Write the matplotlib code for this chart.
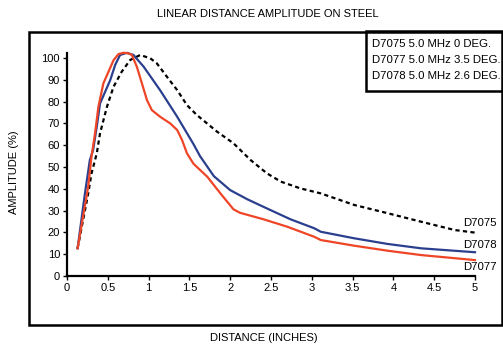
import matplotlib
matplotlib.use("Agg")
import matplotlib.pyplot as plt
from matplotlib.patches import Rectangle

plt.rcParams['font.family'] = ['Liberation Sans', 'DejaVu Sans']

# D7075 (dashed black)
x_d7075 = [0.13, 0.26, 0.30, 0.365, 0.405, 0.49, 0.57, 0.67, 0.774, 0.897, 1.02, 1.10, 1.225, 1.35, 1.47,
           1.59, 1.84, 2.04, 2.25, 2.45, 2.62, 2.86, 3.11, 3.52, 3.93, 4.34, 4.75, 5.0]
y_d7075 = [12.7, 37.9, 47.0, 56.3, 65.5, 77.7, 86.8, 93.7, 99.1, 101.4, 99.9, 97.6, 91.4, 85.3, 78.4,
           73.9, 66.2, 60.9, 53.2, 47.1, 43.3, 40.2, 37.9, 32.6, 28.8, 24.9, 21.1, 19.9]

# D7078 (blue)
x_d7078 = [0.13, 0.22, 0.28, 0.32, 0.365, 0.405, 0.467, 0.53, 0.59, 0.65, 0.733, 0.815, 0.94, 1.14, 1.35,
           1.55, 1.63, 1.80, 2.0, 2.21, 2.45, 2.74, 3.03, 3.11, 3.52, 3.93, 4.34, 5.0]
y_d7078 = [12.7, 37.9, 53.2, 57.8, 68.5, 79.2, 84.5, 89.9, 96.8, 101.4, 102.4, 101.4, 96.0, 85.3, 73.1,
           60.5, 55.0, 45.8, 39.4, 35.2, 31.0, 26.0, 21.9, 20.3, 17.3, 14.7, 12.7, 10.9]

# D7077 (red)
x_d7077 = [0.13, 0.20, 0.26, 0.30, 0.344, 0.385, 0.446, 0.50, 0.57, 0.63, 0.69, 0.75, 0.795, 0.856, 0.918,
           0.98, 1.04, 1.14, 1.265, 1.35, 1.41, 1.47, 1.55, 1.72, 1.88, 2.04, 2.12, 2.41, 2.70, 3.03, 3.11,
           3.52, 3.93, 4.34, 5.0]
y_d7077 = [12.7, 28.0, 41.0, 54.7, 65.5, 77.7, 88.4, 93.0, 99.0, 101.8, 102.4, 102.2, 101.4, 96.0, 88.4,
           80.7, 76.1, 73.1, 70.0, 67.0, 62.4, 56.3, 51.5, 45.5, 37.9, 30.6, 29.0, 26.0, 22.6, 18.0, 16.5,
           13.9, 11.6, 9.6, 7.3]

x_ticks = [0, 0.5, 1, 1.5, 2, 2.5, 3, 3.5, 4, 4.5, 5]
x_tick_labels = ["0", "0.5", "1", "1.5", "2", "2.5", "3", "3.5", "4", "4.5", "5"]
y_ticks = [0, 10, 20, 30, 40, 50, 60, 70, 80, 90, 100]

legend_lines = ["D7075 5.0 MHz 0 DEG.", "D7077 5.0 MHz 3.5 DEG.", "D7078 5.0 MHz 2.6 DEG."]
end_labels = ["D7075", "D7078", "D7077"]
end_label_y = [24.4, 14.2, 4.1]

W, H = 503, 346
fig = plt.figure(figsize=(W / 100, H / 100), dpi=100)

# Outer frame
fig.patches.append(Rectangle((29 / W, 1 - 325 / H), (502 - 29) / W, (325 - 32) / H,
                             transform=fig.transFigure, fill=False, lw=1.8, ec='black'))
# Legend box
fig.patches.append(Rectangle((366 / W, 1 - 91 / H), (503 - 366) / W, (91 - 31) / H,
                             transform=fig.transFigure, fill=False, lw=1.8, ec='black', zorder=5))
for i, t in enumerate(legend_lines):
    fig.text(372 / W, 1 - (44 + 16 * i) / H, t, fontsize=8.2, va='center', ha='left')

fig.text(268 / W, 1 - 14 / H, "LINEAR DISTANCE AMPLITUDE ON STEEL", fontsize=8, ha='center', va='center')
fig.text(264 / W, 1 - 338 / H, "DISTANCE (INCHES)", fontsize=8, ha='center', va='center')
fig.text(14 / W, 1 - 172 / H, "AMPLITUDE (%)", fontsize=8, ha='center', va='center', rotation=90)

ax = fig.add_axes([67 / W, 1 - 276 / H, (475 - 67) / W, (276 - 52.6) / H])
ax.set_xlim(0, 5)
ax.set_ylim(0, 102.5)

ax.plot(x_d7075, y_d7075, color='black', lw=1.6, dashes=(1.9, 1.5), clip_on=False)
ax.plot(x_d7078, y_d7078, color='#2b3f8f', lw=1.6, clip_on=False)
ax.plot(x_d7077, y_d7077, color='#ef4527', lw=1.6, clip_on=False)

for lab, yy in zip(end_labels, end_label_y):
    ax.text(4.86, yy, lab, fontsize=8.2, ha='left', va='center', clip_on=False)

for s in ['top', 'right']:
    ax.spines[s].set_visible(False)
for s in ['left', 'bottom']:
    ax.spines[s].set_linewidth(1.6)
ax.set_xticks(x_ticks)
ax.set_xticklabels(x_tick_labels)
ax.set_yticks(y_ticks)
ax.tick_params(direction='out', length=3, width=1, labelsize=8, pad=2)
ax.patch.set_visible(False)

fig.savefig("out.png", dpi=100)
